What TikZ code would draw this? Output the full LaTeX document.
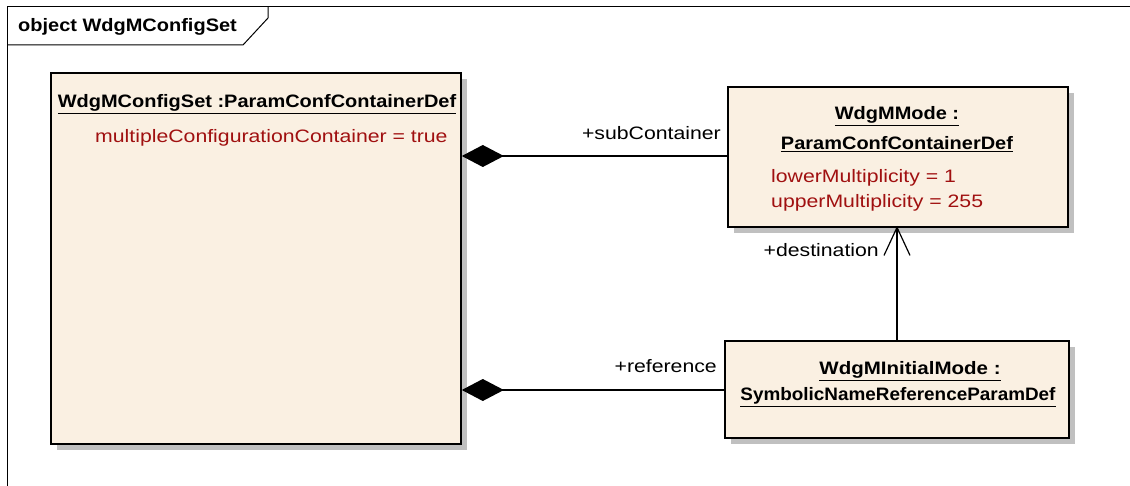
\documentclass[tikz,border=0pt]{standalone}
\usepackage{fontspec}
\usepackage{graphicx}
\setmainfont{Liberation Sans}
\usetikzlibrary{arrows.meta,shadows}
\definecolor{boxfill}{RGB}{250,240,226}
\definecolor{attr}{RGB}{160,16,16}
\definecolor{shadowgray}{RGB}{192,192,192}
\newcommand{\bstretch}[1]{\scalebox{1.11}[1]{#1}}
\newcommand{\rstretch}[1]{\scalebox{1.18}[1]{#1}}
\tikzset{
  objbox/.style={draw=black, line width=1.8pt, fill=boxfill, anchor=north west, inner sep=0pt,
    drop shadow={shadow xshift=6pt, shadow yshift=-6pt, fill=shadowgray, opacity=1}},
  titletext/.style={font=\fontsize{18}{22}\selectfont\bfseries, inner sep=0pt, align=center},
  attrtext/.style={font=\fontsize{18}{24}\selectfont, text=attr, inner sep=0pt, align=left, anchor=west},
  roletext/.style={font=\fontsize{18}{22}\selectfont, inner sep=0pt, anchor=east},
  conn/.style={line width=1.4pt},
  comp/.style={conn, {Diamond[length=42pt,width=22pt]}-},
  nav/.style={conn, -{Straight Barb[length=28pt,width=26pt,line width=1.2pt]}},
}
\begin{document}
\begin{tikzpicture}[x=1pt,y=-1pt]
\useasboundingbox (0,0) rectangle (1130,486);
% frame
\draw[line width=1pt] (7,486) -- (7,7) -- (1130,7);
\draw[line width=1pt] (7,45) -- (243,45) -- (268,18) -- (268,7);
\node[font=\fontsize{18}{22}\selectfont\bfseries, anchor=west, inner sep=0pt] (frametitle) at (18,27) {\bstretch{object WdgMConfigSet}};
% boxes
\node[objbox, minimum width=410pt, minimum height=371pt] (cfg) at (50,72) {};
\node[objbox, minimum width=340pt, minimum height=140pt] (mode) at (727,86) {};
\node[objbox, minimum width=344pt, minimum height=97pt] (init) at (724,340) {};
% texts
\node[titletext] (cfgtitle) at (257,104) {\bstretch{\underline{WdgMConfigSet :ParamConfContainerDef}}};
\node[attrtext] (cfgattr) at (95,138) {\rstretch{multipleConfigurationContainer = true}};
\node[titletext] (modetitle) at (897,116) {\bstretch{\underline{WdgMMode :}}};
\node[titletext] (modetitle2) at (897,144) {\bstretch{\underline{ParamConfContainerDef}}};
\node[attrtext] (modeattr1) at (771,178) {\rstretch{lowerMultiplicity = 1}};
\node[attrtext] (modeattr2) at (771,203) {\rstretch{upperMultiplicity = 255}};
\node[titletext] (inittitle) at (910,371) {\scalebox{1.14}[1]{\underline{WdgMInitialMode :}}};
\node[titletext] (inittitle2) at (898,397) {\scalebox{1.05}[1]{\underline{SymbolicNameReferenceParamDef}}};
% connectors
\coordinate (c1a) at (cfg.east |- 0,156);
\coordinate (c1b) at (mode.west |- 0,156);
\draw[comp] (c1a) -- (c1b);
\coordinate (c2a) at (cfg.east |- 0,390);
\coordinate (c2b) at (init.west |- 0,390);
\draw[comp] (c2a) -- (c2b);
\coordinate (d1) at (897,340);
\coordinate (d2) at (897,226);
\draw[nav] (d1) -- (d2);
% role labels
\node[roletext] (r1) at (721,133) {\rstretch{+subContainer}};
\node[roletext] (r2) at (717,366) {\rstretch{+reference}};
\node[roletext] (r3) at (879,250) {\rstretch{+destination}};
\end{tikzpicture}
\end{document}
